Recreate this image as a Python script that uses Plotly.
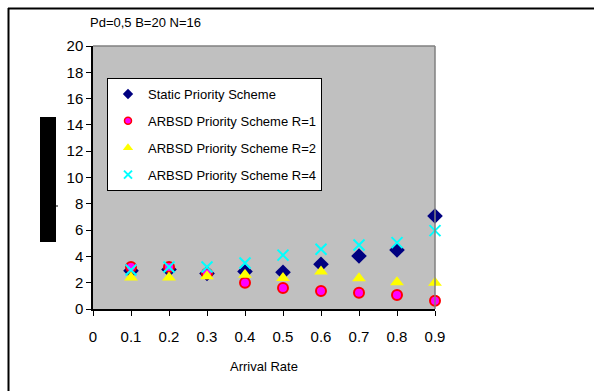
import plotly.graph_objects as go

# Arrival rates and measured values per scheme
arrival_rate = [0.1, 0.2, 0.3, 0.4, 0.5, 0.6, 0.7, 0.8, 0.9]
static_scheme = [2.9, 3.0, 2.7, 2.85, 2.8, 3.4, 4.03, 4.49, 7.07]
arbsd_r1 = [3.2, 3.2, 2.7, 2.0, 1.6, 1.37, 1.24, 1.06, 0.63]
arbsd_r2 = [2.4, 2.4, 2.5, 2.6, 2.35, 2.85, 2.33, 2.03, 2.0]
arbsd_r4 = [2.97, 3.2, 3.2, 3.5, 4.1, 4.55, 4.87, 5.05, 5.96]

series_names = [
    "Static Priority Scheme",
    "ARBSD Priority Scheme R=1",
    "ARBSD Priority Scheme R=2",
    "ARBSD Priority Scheme R=4",
]

x_ticks = [0, 0.1, 0.2, 0.3, 0.4, 0.5, 0.6, 0.7, 0.8, 0.9]
x_labels = ["0", "0.1", "0.2", "0.3", "0.4", "0.5", "0.6", "0.7", "0.8", "0.9"]
y_ticks = list(range(0, 21, 2))

W, H = 594, 391
L, R, T, B = 93, 159, 46, 82
pw, ph = W - L - R, H - T - B


def px(x):
    return (x - L) / pw


def py(y):
    return (H - B - y) / ph


styles = [
    dict(symbol="diamond", color="#000080"),
    dict(symbol="circle", color="#FF00FF", line=dict(color="#FF0000", width=2)),
    dict(symbol="triangle-up", color="#FFFF00"),
    dict(symbol="x-thin", color="#00FFFF", line=dict(color="#00FFFF", width=2)),
]
sizes = [12, 10, 12, 11]
legend_sizes = [8, 7, 9, 8]
series = [static_scheme, arbsd_r1, arbsd_r2, arbsd_r4]

fig = go.Figure()
for name, vals, st, sz in zip(series_names, series, styles, sizes):
    fig.add_trace(go.Scatter(
        x=arrival_rate, y=vals, mode="markers", name=name, showlegend=False,
        cliponaxis=False, marker=dict(size=sz, **st),
    ))

# legend entries with the smaller legend glyphs
for i, (name, st, sz) in enumerate(zip(series_names, styles, legend_sizes)):
    st2 = dict(st)
    if "line" in st2:
        st2["line"] = dict(st2["line"], width=1.5 if i == 1 else 2)
    fig.add_trace(go.Scatter(
        x=[None], y=[None], mode="markers", name=name, legendgroup=name,
        marker=dict(size=sz, **st2),
    ))

shapes = [
    # gray border of the plot area (top and right)
    dict(type="line", xref="paper", yref="paper", x0=0, x1=1, y0=1, y1=1,
         line=dict(color="#808080", width=1.5)),
    dict(type="line", xref="paper", yref="paper", x0=1, x1=1, y0=0, y1=1,
         line=dict(color="#808080", width=1.5)),
    # outer chart frame
    dict(type="line", xref="paper", yref="paper", x0=px(8), x1=px(600), y0=py(8.5), y1=py(8.5),
         line=dict(color="black", width=2)),
    dict(type="line", xref="paper", yref="paper", x0=px(8.5), x1=px(8.5), y0=py(8), y1=py(400),
         line=dict(color="black", width=2)),
    # masked axis title block
    dict(type="rect", xref="paper", yref="paper", x0=px(40), x1=px(56), y0=py(242), y1=py(117),
         fillcolor="black", line=dict(width=0)),
    dict(type="line", xref="paper", yref="paper", x0=px(56), x1=px(58), y0=py(206), y1=py(206),
         line=dict(color="black", width=1)),
]

fig.update_layout(
    width=W, height=H,
    margin=dict(l=L, r=R, t=T, b=B),
    paper_bgcolor="white", plot_bgcolor="#C0C0C0",
    font=dict(family="Liberation Sans, Arial, sans-serif", color="black", size=12),
    showlegend=True,
    legend=dict(
        x=px(107), y=py(78), xanchor="left", yanchor="top",
        bgcolor="white", bordercolor="black", borderwidth=1,
        font=dict(size=13), tracegroupgap=7, traceorder="grouped",
        itemwidth=30,
    ),
    shapes=shapes,
    annotations=[
        dict(text="Pd=0,5 B=20 N=16", xref="paper", yref="paper", x=px(88), y=py(22),
             xanchor="left", yanchor="middle", showarrow=False, font=dict(size=13)),
        dict(text="Arrival Rate", xref="paper", yref="paper", x=0.5, y=py(367),
             xanchor="center", yanchor="middle", showarrow=False, font=dict(size=13)),
    ],
    xaxis=dict(
        range=[0, 0.9], tickvals=x_ticks, ticktext=x_labels,
        showgrid=False, zeroline=False, showline=True, linecolor="black", linewidth=1.5,
        ticks="outside", ticklen=5, tickcolor="black", tickfont=dict(size=15),
        ticklabelstandoff=8,
    ),
    yaxis=dict(
        range=[0, 20], tickvals=y_ticks,
        showgrid=False, zeroline=False, showline=True, linecolor="black", linewidth=1.5,
        ticks="outside", ticklen=5, tickcolor="black", tickfont=dict(size=15),
    ),
)

fig.write_html("out.html")
